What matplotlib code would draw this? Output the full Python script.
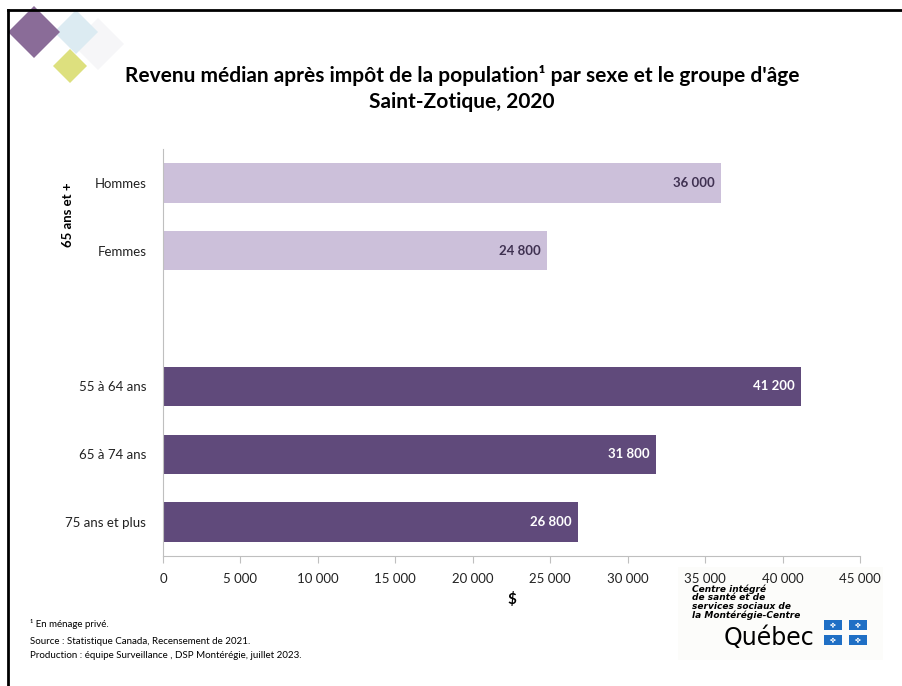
#!/usr/bin/env python3
# revenu median apres impot - Saint-Zotique 2020
import numpy as np
import matplotlib.pyplot as plt
from matplotlib.patches import Rectangle, Polygon
from matplotlib.ticker import FuncFormatter

plt.rcParams['font.family'] = ['Lato', 'DejaVu Sans']

# data
categories = ["Hommes", "Femmes", "55 à 64 ans", "65 à 74 ans", "75 ans et plus"]
values = [36000, 24800, 41200, 31800, 26800]
positions = [0, 1, 3, 4, 5]
group_light = [True, True, False, False, False]
xticks = [0, 5000, 10000, 15000, 20000, 25000, 30000, 35000, 40000, 45000]

LIGHT = "#CCC0DA"
DARK = "#604A7B"

def fmt(v, pos=None):
    return "{:,}".format(int(v)).replace(",", " ")

def px(x, y):
    # pixel coords (top-left origin) -> figure fraction
    return x / 902, 1 - y / 686

fig = plt.figure(figsize=(9.02, 6.86), dpi=100)

# logo background, behind the axes
lx, ly = px(678, 660)
fig.patches.append(Rectangle((lx, ly), 205 / 902, 93 / 686, transform=fig.transFigure,
                             facecolor="#FCFCFA", edgecolor="none", zorder=-5))

ax = fig.add_axes([0.1807, 0.1895, 0.7727, 0.5933])
ax.patch.set_alpha(0)

colors = [LIGHT if l else DARK for l in group_light]
ax.barh(positions, values, height=0.58, color=colors, edgecolor="none")

for p, v, l in zip(positions, values, group_light):
    ax.text(v - 400, p, fmt(v), ha="right", va="center", fontsize=9.5,
            fontweight="bold", color="#3F3151" if l else "white")

ax.set_ylim(5.5, -0.5)
ax.set_xlim(0, 45000)
ax.set_yticks(positions)
ax.set_yticklabels(categories, fontsize=9.5, color="#222222")
ax.set_xticks(xticks)
ax.xaxis.set_major_formatter(FuncFormatter(fmt))
ax.tick_params(axis="x", labelsize=9.5, colors="#222222", length=5, color="#BFBFBF", pad=7)
ax.tick_params(axis="y", length=0, pad=12)
for s in ["top", "right"]:
    ax.spines[s].set_visible(False)
ax.spines["left"].set_color("#BFBFBF")
ax.spines["bottom"].set_color("#BFBFBF")
ax.set_xlabel("$", fontsize=11, fontweight="bold", labelpad=5)

# group label
fig.text(*px(68, 215), "65 ans et +", rotation=90, ha="center", va="center",
         fontsize=9.5, fontweight="bold")

# title
fig.text(*px(462, 75), "Revenu médian après impôt de la population¹ par sexe et le groupe d'âge",
         ha="center", va="center", fontsize=15, fontweight="bold")
fig.text(*px(462, 102), "Saint-Zotique, 2020", ha="center", va="center",
         fontsize=15, fontweight="bold")

# notes
fig.text(*px(30, 624), "¹ En ménage privé.", fontsize=7, va="center")
fig.text(*px(30, 641), "Source : Statistique Canada, Recensement de 2021.", fontsize=7, va="center")
fig.text(*px(30, 655), "Production : équipe Surveillance , DSP Montérégie, juillet 2023.",
         fontsize=7, va="center")

# logo
fig.text(*px(692, 584), "Centre intégré\nde santé et de\nservices sociaux de\nla Montérégie-Centre",
         fontsize=6.5, fontweight="bold", style="italic", va="top", linespacing=0.95,
         family=["DejaVu Sans"])
fig.text(*px(724, 638), "Québec", fontsize=17, va="center", family=["DejaVu Sans"])
for (cx, cy) in [(833, 625), (858, 625), (833, 640), (858, 640)]:
    rx, ry = px(cx - 9, cy + 5)
    fig.patches.append(Rectangle((rx, ry), 18 / 902, 10 / 686, transform=fig.transFigure,
                                 facecolor="#1F6FC5", edgecolor="none"))
    fig.text(*px(cx, cy), "✤", color="white", fontsize=5, ha="center", va="center",
             family=["DejaVu Sans"])

# decorative diamonds
def diamond(cx, cy, r, color):
    pts = [px(cx, cy - r), px(cx + r, cy), px(cx, cy + r), px(cx - r, cy)]
    fig.patches.append(Polygon(pts, closed=True, transform=fig.transFigure,
                               facecolor=color, edgecolor="none"))

diamond(98, 44, 26, "#F6F6F8")
diamond(76, 32, 22, "#DCEBF2")
diamond(34, 32, 26, "#8A6C98")
diamond(70, 66, 17, "#DDE07E")

# frame (top and left)
fig.lines.append(plt.Line2D([8 / 902, 1], [1 - 10 / 686, 1 - 10 / 686], transform=fig.transFigure,
                            color="black", lw=2))
fig.lines.append(plt.Line2D([8 / 902, 8 / 902], [0, 1 - 10 / 686], transform=fig.transFigure,
                            color="black", lw=2))

fig.savefig("out.png", dpi=100)
